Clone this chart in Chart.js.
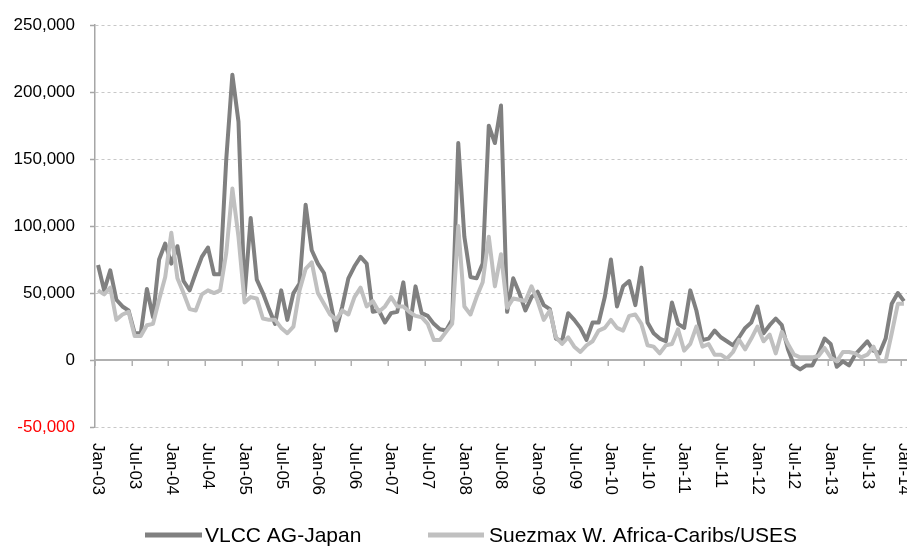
<!DOCTYPE html>
<html>
<head>
<meta charset="utf-8">
<script src="https://cdn.jsdelivr.net/npm/chart.js@4.4.1/dist/chart.umd.min.js"></script>
<style>
html,body{margin:0;padding:0;background:#ffffff;overflow:hidden;}
#wrap{width:907px;height:548px;position:relative;}
canvas{display:block;}
</style>
</head>
<body>
<div id="wrap"><canvas id="chart" width="907" height="548"></canvas></div>
<script>
// ---- Data (monthly, Jan-03 .. Jan-14) ----
const monthNames = ["Jan","Feb","Mar","Apr","May","Jun","Jul","Aug","Sep","Oct","Nov","Dec"];
const years = ["03","04","05","06","07","08","09","10","11","12","13","14"];
const categories = [];
years.forEach(function (yy) {
  monthNames.forEach(function (m) {
    if (categories.length < 133) categories.push(m + "-" + yy);
  });
});

const tickLabels = ["Jan-03","Jul-03","Jan-04","Jul-04","Jan-05","Jul-05","Jan-06","Jul-06",
  "Jan-07","Jul-07","Jan-08","Jul-08","Jan-09","Jul-09","Jan-10","Jul-10","Jan-11","Jul-11",
  "Jan-12","Jul-12","Jan-13","Jul-13","Jan-14"];

const yTicks = [-50000, 0, 50000, 100000, 150000, 200000, 250000];

const seriesNames = ["VLCC AG-Japan", "Suezmax W. Africa-Caribs/USES"];

const vlccAGJapan = [
  71000, 52000, 67000, 45000, 40000, 37000, 20000, 20000, 53000, 32000, 75000, 87000,
  72000, 85000, 59000, 52000, 65000, 77000, 84000, 64000, 64000, 150000, 213000, 178000,
  48000, 106000, 60000, 50000, 38000, 27000, 52000, 30000, 50000, 57000, 116000, 82000,
  72000, 65000, 45000, 22000, 40000, 61000, 70000, 77000, 72000, 36000, 37000, 28000,
  35000, 36000, 58000, 23000, 55000, 35000, 33000, 27000, 23000, 22000, 30000, 162000,
  92000, 62000, 61000, 72000, 175000, 162000, 190000, 36000, 61000, 50000, 37000, 47000,
  51000, 41000, 38000, 16000, 14000, 35000, 30000, 24000, 15000, 28000, 28000, 47000,
  75000, 40000, 55000, 59000, 41000, 69000, 28000, 20000, 16000, 14000, 43000, 27000,
  24000, 52000, 37000, 15000, 16000, 22000, 17000, 14000, 11000, 17000, 24000, 28000,
  40000, 20000, 26000, 31000, 26000, 8000, -4000, -7000, -4000, -4000, 5000, 16000,
  12000, -5000, -1000, -4000, 4000, 9000, 14000, 7000, 5000, 16000, 42000, 50000,
  44000
];

const suezmaxWAfrica = [
  52000, 49000, 54000, 30000, 34000, 36000, 18000, 18000, 26000, 27000, 45000, 62000,
  95000, 61000, 50000, 38000, 37000, 49000, 52000, 50000, 52000, 80000, 128000, 92000,
  43000, 47000, 46000, 31000, 30000, 30000, 24000, 20000, 25000, 52000, 68000, 73000,
  50000, 42000, 34000, 30000, 37000, 34000, 47000, 54000, 40000, 44000, 36000, 40000,
  47000, 40000, 40000, 36000, 33000, 32000, 27000, 15000, 15000, 21000, 27000, 100000,
  40000, 34000, 47000, 58000, 92000, 55000, 79000, 39000, 46000, 45000, 44000, 55000,
  44000, 30000, 37000, 17000, 12000, 17000, 10000, 6000, 11000, 14000, 22000, 24000,
  30000, 24000, 22000, 33000, 34000, 27000, 11000, 10000, 5000, 11000, 12000, 23000,
  7000, 12000, 25000, 10000, 12000, 4000, 4000, 1000, 6000, 15000, 8000, 16000,
  25000, 14000, 19000, 5000, 21000, 12000, 4000, 2000, 2000, 2000, 3000, 9000,
  2000, -1000, 6000, 6000, 5000, 2000, 4000, 10000, -1000, -1000, 20000, 42000,
  42000
];

// ---- Styles ----
const darkGrey = "#808080";
const lightGrey = "#c0c0c0";
const fontFamily = "'Liberation Sans', Arial, sans-serif";

const decorPlugin = {
  id: "decor",
  beforeDatasetsDraw(chart) {
    const { ctx, chartArea, scales } = chart;
    const xs = scales.x, ys = scales.y;
    const y0 = Math.round(ys.getPixelForValue(0));
    ctx.save();
    ctx.strokeStyle = "#b0b0b0";
    ctx.lineWidth = 2;
    ctx.beginPath();
    ctx.moveTo(chartArea.left, y0);
    ctx.lineTo(chartArea.right, y0);
    ctx.stroke();
    const w = (chartArea.right - chartArea.left) / categories.length;
    ctx.lineWidth = 1.5;
    tickLabels.forEach(function (lab) {
      const idx = categories.indexOf(lab);
      const px = Math.round(xs.getPixelForValue(idx) - w / 2) + 0.25;
      ctx.beginPath();
      ctx.moveTo(px, y0);
      ctx.lineTo(px, y0 + 6);
      ctx.stroke();
    });
    ctx.restore();
  },
  afterDraw(chart) {
    const { ctx, scales } = chart;
    const xs = scales.x;
    ctx.save();
    // rotated category labels (reading top to bottom)
    ctx.fillStyle = "#000000";
    ctx.font = "17px " + fontFamily;
    ctx.textAlign = "left";
    ctx.textBaseline = "middle";
    tickLabels.forEach(function (lab) {
      const idx = categories.indexOf(lab);
      const px = xs.getPixelForValue(idx);
      ctx.save();
      ctx.translate(px, 443);
      ctx.rotate(Math.PI / 2);
      ctx.fillText(lab, 0, 0);
      ctx.restore();
    });
    // legend
    const ds = chart.data.datasets;
    const items = [
      { ds: ds[0], x0: 145, x1: 202, tx: 205 },
      { ds: ds[1], x0: 428, x1: 484, tx: 489 }
    ];
    ctx.font = "21px " + fontFamily;
    ctx.textBaseline = "middle";
    items.forEach(function (it) {
      ctx.strokeStyle = it.ds.borderColor;
      ctx.lineWidth = 5;
      ctx.beginPath();
      ctx.moveTo(it.x0, 535);
      ctx.lineTo(it.x1, 535);
      ctx.stroke();
      ctx.fillStyle = "#000000";
      ctx.fillText(it.ds.label, it.tx, 536);
    });
    ctx.restore();
  }
};

new Chart(document.getElementById("chart"), {
  type: "line",
  data: {
    labels: categories,
    datasets: [
      {
        label: seriesNames[0],
        data: vlccAGJapan,
        borderColor: darkGrey,
        backgroundColor: darkGrey,
        borderWidth: 4,
        pointRadius: 0,
        tension: 0,
        borderJoinStyle: "round",
        order: 2
      },
      {
        label: seriesNames[1],
        data: suezmaxWAfrica,
        borderColor: lightGrey,
        backgroundColor: lightGrey,
        borderWidth: 4,
        pointRadius: 0,
        tension: 0,
        borderJoinStyle: "round",
        order: 1
      }
    ]
  },
  options: {
    responsive: false,
    animation: false,
    devicePixelRatio: 1,
    layout: { padding: { top: 25, right: 0, bottom: 0, left: 0 } },
    plugins: {
      legend: { display: false },
      tooltip: { enabled: false },
      title: { display: false }
    },
    scales: {
      x: {
        type: "category",
        offset: true,
        ticks: { display: false },
        grid: { display: false },
        border: { display: false },
        afterFit: function (s) { s.height = 121; }
      },
      y: {
        min: -50000,
        max: 250000,
        afterBuildTicks: function (s) { s.ticks = yTicks.map(function (v) { return { value: v }; }); },
        ticks: {
          padding: 15,
          color: function (c) { return c.tick && c.tick.value < 0 ? "#ff0000" : "#000000"; },
          font: { family: fontFamily, size: 17 },
          callback: function (v) { return Number(v).toLocaleString("en-US"); }
        },
        grid: {
          color: function (c) { return c.tick && c.tick.value === 0 ? "rgba(0,0,0,0)" : "#c8c8c8"; },
          lineWidth: 1,
          tickLength: 5,
          tickColor: "#a6a6a6",
          tickWidth: 1.5
        },
        border: { display: true, color: "#a6a6a6", width: 1.5, dash: [3, 3] },
        afterFit: function (s) { s.width = 95; }
      }
    }
  },
  plugins: [decorPlugin]
});
</script>
</body>
</html>
